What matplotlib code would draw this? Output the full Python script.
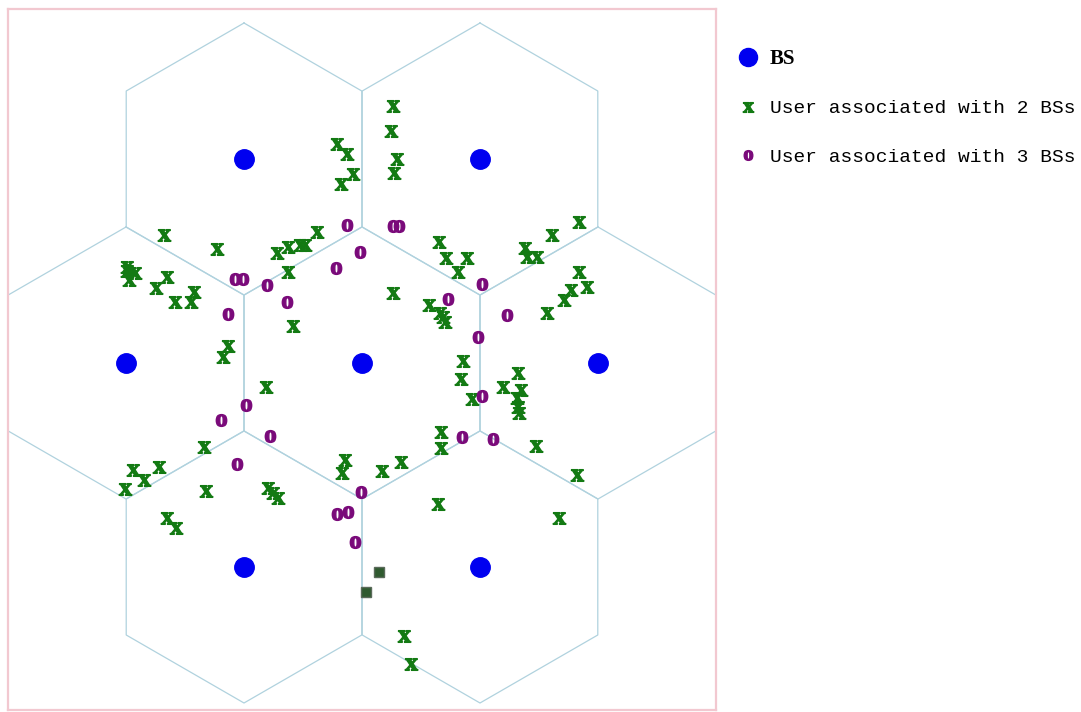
import numpy as np
import matplotlib
matplotlib.use("Agg")
import matplotlib.pyplot as plt
from matplotlib.lines import Line2D
from matplotlib.font_manager import FontProperties

plt.rcParams['mathtext.fontset'] = 'custom'
plt.rcParams['mathtext.bf'] = 'Liberation Serif:bold'
plt.rcParams['mathtext.rm'] = 'Liberation Serif'

# cell radius (hexagon circumradius), same units as positions
R = 136

# base stations
bs_x = [-118, 118, -236, 0, 236, -118, 118]
bs_y = [204, 204, 0, 0, 0, -204, -204]

# users associated with 2 base stations
u2_x = [-25, -15, -9, -21, 31, 29, 35, 32, -45, -198, -145, -85, -74, -62, -57, -74,
        -235, -235, -227, -233, -195, -206, -187, -168, -171, -69, -134, -139, -96,
        -158, -17, -20, -203, -229, -218, -237, -156, -94, -89, -84, -195, -186,
        77, 84, 105, 96, 190, 217, 163, 165, 175, 217, 225, 209, 202, 185,
        31, 67, 78, 81, 83, 101, 99, 110, 141, 156, 159, 155, 156, 157,
        79, 79, 174, 39, 20, 215, 76, 197, 42, 49]
u2_y = [219, 209, 189, 179, 257, 232, 204, 190, 131, 128, 114, 110, 116, 118, 118, 91,
        96, 92, 90, 83, 86, 75, 61, 71, 61, 37, 17, 6, -24,
        -84, -97, -110, -104, -107, -117, -126, -128, -125, -130, -135, -155, -165,
        121, 105, 105, 91, 128, 141, 115, 106, 106, 91, 76, 73, 63, 50,
        70, 58, 50, 46, 41, 2, -16, -36, -24, -10, -27, -35, -44, -50,
        -69, -85, -83, -99, -108, -112, -141, -155, -273, -301]

# users associated with 3 base stations
u3_x = [-15, 31, 37, -2, -26, -127, -119, -95, -75, -134, 120, 86, 145, 116, 120,
        -116, -141, -92, 100, 131, -125, -1, -25, -14, -7]
u3_y = [138, 137, 137, 111, 95, 84, 84, 78, 61, 49, 79, 64, 48, 26, -33,
        -42, -57, -73, -74, -76, -101, -129, -151, -149, -179]

# overlapping user marks
ov_x = [17, 4]
ov_y = [-209, -229]

bs_color = '#0000f0'
u2_color = '#137a13'
u3_color = '#7a0a7a'
cell_color = '#b0d2de'

fig = plt.figure(figsize=(10.81, 7.12), dpi=100)
ax = fig.add_axes([8 / 1081, 2 / 712, 708 / 1081, 701 / 712])

# hexagonal cell outlines (pointy top)
ang = np.radians(90 + 60 * np.arange(7))
for cx, cy in zip(bs_x, bs_y):
    ax.plot(cx + R * np.cos(ang), cy + R * np.sin(ang), color=cell_color, lw=0.9, zorder=1)

ax.plot(bs_x, bs_y, ls='none', marker='o', ms=14, color=bs_color, zorder=3)
ax.plot(u2_x, u2_y, ls='none', marker=r'$\mathbf{x}$', ms=9, color=u2_color, zorder=4)
ax.plot(u3_x, u3_y, ls='none', marker=r'$\mathbf{o}$', ms=8.5, color=u3_color, zorder=4)
ax.plot(ov_x, ov_y, ls='none', marker='s', ms=7, color='#2f5a2f', mec='#5a6a5a', zorder=5)

ax.set_xlim(-354, 354)
ax.set_ylim(-347, 354)
ax.set_aspect('equal')
ax.set_xticks([])
ax.set_yticks([])
for s in ax.spines.values():
    s.set_color('#f2c8d0')
    s.set_linewidth(1.6)

handles = [
    Line2D([], [], ls='none', marker='o', ms=13, color=bs_color),
    Line2D([], [], ls='none', marker=r'$\mathbf{x}$', ms=7.5, color=u2_color),
    Line2D([], [], ls='none', marker=r'$\mathbf{o}$', ms=7, color=u3_color),
]
labels = ['BS', 'User associated with 2 BSs', 'User associated with 3 BSs']
leg = fig.legend(handles, labels, loc='upper left', bbox_to_anchor=(729 / 1081, 1 - 39 / 712),
                 frameon=False, prop=FontProperties(family='Liberation Mono', size=14),
                 handlelength=1.0, handletextpad=0.6, labelspacing=1.6, borderpad=0)
leg.get_texts()[0].set_fontproperties(FontProperties(family='Liberation Serif', weight='bold', size=15))

fig.savefig('out.png', dpi=100)
